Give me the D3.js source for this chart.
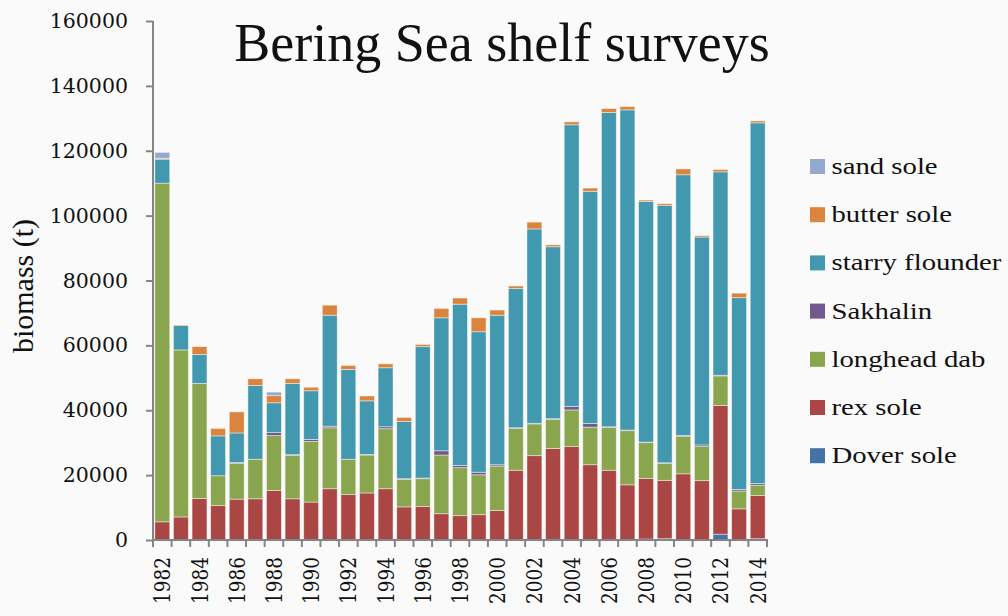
<!DOCTYPE html>
<html>
<head>
<meta charset="utf-8">
<script src="https://cdn.jsdelivr.net/npm/d3@7/dist/d3.min.js"></script>
<style>
  html, body { margin: 0; padding: 0; background: #fafafa; }
  svg { display: block; }
  .numf { font-family: "DejaVu Serif", "Liberation Serif", serif; }
  .txtf { font-family: "Liberation Serif", "DejaVu Serif", serif; }
</style>
</head>
<body>
<svg id="chart" width="1008" height="616"></svg>
<script>
const years = ["1982","1983","1984","1985","1986","1987","1988","1989","1990","1991","1992","1993","1994","1995","1996","1997","1998","1999","2000","2001","2002","2003","2004","2005","2006","2007","2008","2009","2010","2011","2012","2013","2014"];

const doverSole      = [0,0,0,0,0,0,0,0,0,0,0,0,0,0,0,0,0,0,0,0,0,200,0,0,0,0,300,400,0,0,1800,0,400];
const rexSole        = [5600,7100,12800,10600,12600,12700,15300,12700,11700,15800,14000,14500,15800,10200,10300,8100,7500,7800,9100,21500,26000,28000,28800,23200,21500,17000,18700,18000,20400,18300,39700,9600,13300];
const longheadDab    = [104400,51500,35500,9200,11000,12200,16900,13400,18700,18800,10900,11700,18500,8500,8600,18100,14800,12300,13700,12900,9800,9000,11300,11600,13200,16700,11000,5200,11600,10500,9100,5500,3200];
const sakhalin       = [0,0,0,0,300,0,900,200,600,500,0,200,600,200,200,1300,700,800,400,200,200,200,1100,1100,200,200,200,200,200,500,200,500,500];
const starryFlounder = [7400,7500,8900,12300,9100,22700,9200,22000,15000,34200,27700,16500,18200,17600,40500,41000,49700,43300,46100,42900,59900,53000,86800,71600,96900,98700,74200,79400,80400,64100,62700,59100,111200];
const butterSole     = [300,200,2400,2300,6500,2100,2200,1400,1100,3100,1200,1500,1200,1300,700,2900,1900,4300,1600,800,2100,600,900,1000,1200,1000,400,500,1800,400,700,1400,600];
const sandSole       = [1800,0,0,0,0,0,1100,0,0,0,0,0,0,0,0,0,0,0,0,0,0,0,0,0,0,0,0,0,0,0,0,0,0];

const seriesNames  = ["Dover sole","rex sole","longhead dab","Sakhalin","starry flounder","butter sole","sand sole"];
const seriesValues = [doverSole, rexSole, longheadDab, sakhalin, starryFlounder, butterSole, sandSole];
const seriesColors = ["#4572a7","#aa4643","#89a54e","#71588f","#4198af","#db843d","#93a9cf"];
const yTicks = [0,20000,40000,60000,80000,100000,120000,140000,160000];
const xLabelYears = ["1982","1984","1986","1988","1990","1992","1994","1996","1998","2000","2002","2004","2006","2008","2010","2012","2014"];

(function () {
const svg = d3.select("#chart");
const pLeft = 153, pRight = 767, pTop = 21, pBottom = 540;

const rows = years.map((yr, i) => {
  const r = { year: yr };
  seriesNames.forEach((n, k) => r[n] = seriesValues[k][i]);
  return r;
});
const stacked = d3.stack().keys(seriesNames)(rows);

const x = d3.scaleBand().domain(years).range([pLeft, pRight]).paddingInner(0.2).paddingOuter(0.1);
const y = d3.scaleLinear().domain([0, 160000]).range([pBottom, pTop]);
const color = d3.scaleOrdinal().domain(seriesNames).range(seriesColors);

// bars
svg.append("g").selectAll("g").data(stacked).join("g")
  .attr("fill", d => color(d.key))
  .selectAll("rect").data(d => d.filter(s => s[1] - s[0] > 0)).join("rect")
  .attr("x", d => x(d.data.year))
  .attr("width", x.bandwidth())
  .attr("y", d => y(d[1]))
  .attr("height", d => y(d[0]) - y(d[1]))
  .attr("stroke", "rgba(255,255,255,0.55)")
  .attr("stroke-width", 0.8);

// y axis
const yAxis = svg.append("g").attr("transform", `translate(${pLeft},0)`)
  .call(d3.axisLeft(y).tickValues(yTicks).tickFormat(d3.format("d")).tickSize(7).tickPadding(18));
yAxis.attr("font-family", null).attr("font-size", null);
yAxis.select(".domain").attr("stroke", "#858585").attr("stroke-width", 2).attr("d", `M0,${pTop}V${pBottom}`);
yAxis.selectAll(".tick line").attr("stroke", "#858585").attr("stroke-width", 2);
yAxis.selectAll(".tick text").attr("class", "numf").style("font-size", "20.5px").attr("fill", "#111");

// x axis (ticks at category boundaries)
const xAxisG = svg.append("g");
xAxisG.append("line").attr("x1", pLeft - 1).attr("x2", pRight + 1).attr("y1", pBottom).attr("y2", pBottom)
  .attr("stroke", "#858585").attr("stroke-width", 2);
const step = x.step();
const boundaries = years.map(yr => x(yr) - step * x.paddingInner() / 2).concat([pRight]);
xAxisG.selectAll("line.tk").data(boundaries).join("line").attr("class", "tk")
  .attr("x1", d => d).attr("x2", d => d).attr("y1", pBottom).attr("y2", pBottom + 7)
  .attr("stroke", "#858585").attr("stroke-width", 2);
xAxisG.selectAll("text").data(xLabelYears).join("text")
  .attr("class", "numf")
  .attr("transform", d => `translate(${x(d) + x.bandwidth() / 2},557) scale(1.2,1) rotate(-90)`)
  .attr("text-anchor", "end")
  .attr("dy", "0.36em")
  .style("font-size", "18.5px").attr("fill", "#111")
  .text(d => d);

// title
svg.append("text").attr("class", "txtf").attr("x", 502).attr("y", 61).attr("text-anchor", "middle")
  .style("font-size", "54px").attr("fill", "#111")
  .text("Bering Sea shelf surveys");

// y axis title
svg.append("text").attr("class", "txtf").attr("transform", "translate(33,286) rotate(-90)").attr("text-anchor", "middle")
  .style("font-size", "30px").attr("fill", "#111")
  .text("biomass (t)");

// legend
const legendOrder = seriesNames.slice().reverse();
const lg = svg.append("g").selectAll("g").data(legendOrder).join("g")
  .attr("transform", (d, i) => `translate(810,${166.5 + i * 48.2})`);
lg.append("rect").attr("x", 0).attr("y", -7.5).attr("width", 15).attr("height", 15).attr("fill", d => color(d));
lg.append("text").attr("class", "txtf").attr("transform", "translate(21.5,0) scale(1.25,1)").attr("dy", "0.33em")
  .style("font-size", "23px").attr("fill", "#111")
  .text(d => d);
})();
</script>
</body>
</html>
